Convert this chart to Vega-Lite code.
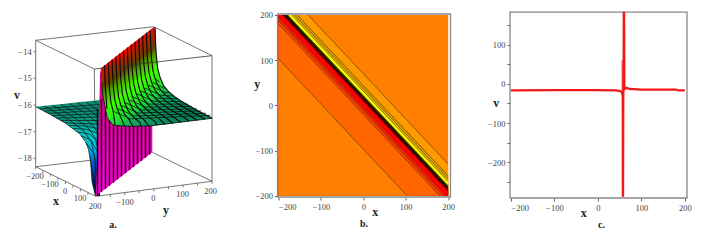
{
"$schema":"https://vega.github.io/schema/vega-lite/v6.json",
"background":"white",
"padding":{"left":0,"top":8,"right":0,"bottom":0},
"bounds":"flush",
"spacing":59.5,
"config":{"view":{"stroke":null},"axis":{"grid":false,"domain":false,"labelOverlap":false,"labelFont":"Liberation Serif","labelFontSize":8.5,"labelColor":"#444444","tickColor":"#666666","tickSize":3,"labelPadding":2,"titleFont":"Liberation Serif","titleFontWeight":"bold","titleFontSize":12,"titleColor":"#222222","titleBaseline":"middle"}},
"datasets":{
"box":[
{"u":35.7,"w":41.3,"u2":153.7,"w2":27.7},{"u":153.7,"w":27.7,"u2":212,"w2":56.7},{"u":94.3,"w":70,"u2":35.7,"w2":41.3},
{"u":35.7,"w":41.3,"u2":35.7,"w2":167.7},{"u":212,"w":56.7,"u2":212,"w2":182.3},{"u":94.3,"w":70,"u2":95.7,"w2":197.3},
{"u":35.7,"w":167.7,"u2":95.7,"w2":197.3},{"u":95.7,"w":197.3,"u2":212,"w2":182.3},{"u":35.7,"w":167.7,"u2":93,"w2":161},{"u":212,"w":182.3,"u2":152.3,"w2":153.3},
{"u":33.5,"w":52.7,"u2":35.7,"w2":52.7},{"u":33.5,"w":79.3,"u2":35.7,"w2":79.3},{"u":33.5,"w":106,"u2":35.7,"w2":106},{"u":33.5,"w":132.7,"u2":35.7,"w2":132.7},{"u":33.5,"w":159.3,"u2":35.7,"w2":159.3},
{"u":35.7,"w":167.7,"u2":35.2,"w2":170.2},{"u":43.2,"w":171.4,"u2":42.7,"w2":173.9},{"u":50.7,"w":175.1,"u2":50.2,"w2":177.6},{"u":58.2,"w":178.8,"u2":57.7,"w2":181.3},{"u":65.7,"w":182.5,"u2":65.2,"w2":185},{"u":73.2,"w":186.2,"u2":72.7,"w2":188.7},{"u":80.7,"w":189.9,"u2":80.2,"w2":192.4},{"u":88.2,"w":193.6,"u2":87.7,"w2":196.1},
{"u":110.2,"w":195.4,"u2":110.2,"w2":197.9},{"u":124.8,"w":193.5,"u2":124.8,"w2":196},{"u":139.3,"w":191.6,"u2":139.3,"w2":194.1},{"u":153.9,"w":189.8,"u2":153.9,"w2":192.3},{"u":168.4,"w":187.9,"u2":168.4,"w2":190.4},{"u":183,"w":186,"u2":183,"w2":188.5},{"u":197.5,"w":184.1,"u2":197.5,"w2":186.6},{"u":212,"w":182.3,"u2":212,"w2":184.8}
],
"boxFront":[{"u":212,"w":56.7,"u2":94.3,"w2":70}],
"teal":[
{"u":35.7,"w":107.7,"w2":107.7},{"u":50.3,"w":106.2,"w2":115.5},{"u":65,"w":104.7,"w2":123.9},{"u":79.7,"w":103.1,"w2":134.8},{"u":85.5,"w":102.5,"w2":142.6},{"u":88.5,"w":102.2,"w2":150.3},{"u":90.7,"w":102,"w2":162.6},{"u":92.1,"w":101.8,"w2":183.2},{"u":95.7,"w":101.4,"w2":197},{"u":100,"w":101,"w2":197}
],
"tealMesh":[
{"id":"a0","u":35.7,"w":107.7},{"id":"a0","u":50.3,"w":115.5},{"id":"a0","u":65,"w":123.9},{"id":"a0","u":79.7,"w":134.8},{"id":"a0","u":85.5,"w":142.6},{"id":"a0","u":88.5,"w":150.3},{"id":"a0","u":90.7,"w":162.6},{"id":"a0","u":92.1,"w":183.2},{"id":"a0","u":95.7,"w":197},
{"id":"a1","u":44.1,"w":106.9},{"id":"a1","u":69.3,"w":120.9},{"id":"a1","u":83.9,"w":131.8},{"id":"a1","u":91.3,"w":142.9},{"id":"a1","u":94.9,"w":159.6},{"id":"a1","u":96.9,"w":194.5},
{"id":"a2","u":52.5,"w":106.1},{"id":"a2","u":73.5,"w":117.9},{"id":"a2","u":88.1,"w":128.8},{"id":"a2","u":95.5,"w":139.9},{"id":"a2","u":99.1,"w":156.6},
{"id":"a3","u":60.9,"w":105.4},{"id":"a3","u":77.7,"w":114.9},{"id":"a3","u":92.3,"w":125.8},{"id":"a3","u":99.7,"w":136.9},
{"id":"a4","u":69.3,"w":104.6},{"id":"a4","u":81.9,"w":111.9},{"id":"a4","u":96.5,"w":122.8},{"id":"a4","u":103.9,"w":133.9},
{"id":"a5","u":77.7,"w":104},{"id":"a5","u":86.1,"w":108.9},{"id":"a5","u":100.7,"w":119.8},
{"id":"a6","u":86.2,"w":103.4},{"id":"a6","u":90.4,"w":105.9},{"id":"a6","u":105,"w":116.8},
{"id":"a7","u":94.5,"w":102.9},{"id":"a7","u":109.2,"w":113.8},
{"id":"b1","u":39.9,"w":109.9},{"id":"b1","u":100,"w":105.5},
{"id":"b2","u":44.1,"w":112.1},{"id":"b2","u":100,"w":108.5},
{"id":"b3","u":48.2,"w":114.3},{"id":"b3","u":100,"w":111.5},
{"id":"b4","u":52.5,"w":116.6},{"id":"b4","u":100,"w":114.6},
{"id":"b5","u":56.7,"w":119},{"id":"b5","u":100,"w":118},
{"id":"b6","u":60.8,"w":121.4},{"id":"b6","u":100,"w":121.5},
{"id":"b7","u":65,"w":123.8},{"id":"b7","u":100,"w":125.3},
{"id":"b8","u":69.2,"w":126.6},{"id":"b8","u":84.5,"w":126.8},{"id":"b8","u":100,"w":129.9},
{"id":"b9","u":73.4,"w":129.4},{"id":"b9","u":86.6,"w":130.3},{"id":"b9","u":100,"w":135.3},
{"id":"b10","u":77.6,"w":132.9},{"id":"b10","u":88.8,"w":134.8},{"id":"b10","u":100,"w":143.4},
{"id":"b11","u":81.7,"w":137},{"id":"b11","u":90.8,"w":140.9},{"id":"b11","u":100,"w":157.2},
{"id":"b12","u":86,"w":143.5},{"id":"b12","u":94.2,"w":155.2},{"id":"b12","u":97.5,"w":185},
{"id":"b13","u":90.1,"w":158.2},{"id":"b13","u":95.2,"w":195.8}
],
"magenta":[
{"u":95.7,"w":197.3,"w2":197.3},{"u":99.5,"w":100,"w2":194.3},{"u":100,"w":75,"w2":193.9},{"u":100.7,"w":72,"w2":193.4},{"u":152.3,"w":100,"w2":153.3}
],
"stripes":[
{"u":97.5,"w":110,"w2":195.9},{"u":101.5,"w":100,"w2":192.8},{"u":105.5,"w":100,"w2":189.7},{"u":109.5,"w":100,"w2":186.6},{"u":113.5,"w":100,"w2":183.5},{"u":117.5,"w":100,"w2":180.4},{"u":121.5,"w":100,"w2":177.3},{"u":125.5,"w":100,"w2":174.1},{"u":129.5,"w":100,"w2":171},{"u":133.5,"w":100,"w2":167.9},{"u":137.5,"w":100,"w2":164.8},{"u":141.5,"w":100,"w2":161.7},{"u":145.5,"w":100,"w2":158.6},{"u":149.5,"w":100,"w2":155.5}
],
"green":[
{"u":100.7,"w":69.3,"w2":70},{"u":101.5,"w":68.7,"w2":84},{"u":103,"w":67.5,"w2":97},{"u":105,"w":66,"w2":107},{"u":107.3,"w":64.2,"w2":119},{"u":113,"w":59.7,"w2":126},{"u":123,"w":52,"w2":127},{"u":133,"w":44.2,"w2":127.3},{"u":152,"w":29.5,"w2":126.7},{"u":154,"w":28,"w2":126.7},{"u":155.1,"w":29.5,"w2":126.5},{"u":155.6,"w":43.8,"w2":126.4},{"u":156.3,"w":56.6,"w2":126.3},{"u":157.8,"w":69.8,"w2":126.1},{"u":160,"w":78.1,"w2":125.9},{"u":163.7,"w":86.9,"w2":125.4},{"u":168.1,"w":92.2,"w2":124.9},{"u":175.4,"w":98.3,"w2":124},{"u":182.7,"w":103.1,"w2":123},{"u":197.4,"w":111.5,"w2":121.2},{"u":212.1,"w":119.3,"w2":119.3}
],
"greenRibs":[
{"id":1,"u":104.5,"w":66.3},{"id":1,"u":105,"w":80.7},{"id":1,"u":105.7,"w":93.6},{"id":1,"u":107,"w":110},
{"id":2,"u":108.3,"w":63.4},{"id":2,"u":108.8,"w":77.8},{"id":2,"u":109.5,"w":90.7},{"id":2,"u":111,"w":103.8},{"id":2,"u":113.2,"w":112.2},{"id":2,"u":115,"w":126},
{"id":3,"u":112.1,"w":60.4},{"id":3,"u":112.6,"w":74.8},{"id":3,"u":113.3,"w":87.7},{"id":3,"u":114.8,"w":100.8},{"id":3,"u":117,"w":109.2},{"id":3,"u":120.7,"w":117.9},{"id":3,"u":124.5,"w":127},
{"id":4,"u":115.9,"w":57.5},{"id":4,"u":116.4,"w":71.9},{"id":4,"u":117.1,"w":84.8},{"id":4,"u":118.6,"w":97.9},{"id":4,"u":120.8,"w":106.3},{"id":4,"u":124.5,"w":115},{"id":4,"u":128.9,"w":120.4},{"id":4,"u":133,"w":127},
{"id":5,"u":119.7,"w":54.5},{"id":5,"u":120.2,"w":68.9},{"id":5,"u":120.9,"w":81.8},{"id":5,"u":122.4,"w":94.9},{"id":5,"u":124.6,"w":103.3},{"id":5,"u":128.3,"w":112},{"id":5,"u":132.7,"w":117.4},{"id":5,"u":140,"w":123.5},{"id":5,"u":141,"w":127},
{"id":6,"u":123.5,"w":51.6},{"id":6,"u":124,"w":66},{"id":6,"u":124.7,"w":78.9},{"id":6,"u":126.2,"w":92},{"id":6,"u":128.4,"w":100.4},{"id":6,"u":132.1,"w":109.1},{"id":6,"u":136.5,"w":114.5},{"id":6,"u":143.8,"w":120.6},{"id":6,"u":149,"w":127},
{"id":7,"u":127.4,"w":48.6},{"id":7,"u":127.9,"w":63},{"id":7,"u":128.6,"w":75.9},{"id":7,"u":130.1,"w":89},{"id":7,"u":132.3,"w":97.4},{"id":7,"u":136,"w":106.1},{"id":7,"u":140.4,"w":111.5},{"id":7,"u":147.7,"w":117.6},{"id":7,"u":155,"w":122.4},{"id":7,"u":157,"w":126.3},
{"id":8,"u":131.2,"w":45.6},{"id":8,"u":131.7,"w":60},{"id":8,"u":132.4,"w":72.9},{"id":8,"u":133.9,"w":86},{"id":8,"u":136.1,"w":94.4},{"id":8,"u":139.8,"w":103.1},{"id":8,"u":144.2,"w":108.5},{"id":8,"u":151.5,"w":114.6},{"id":8,"u":158.8,"w":119.4},{"id":8,"u":165,"w":125.3},
{"id":9,"u":135,"w":42.7},{"id":9,"u":135.5,"w":57.1},{"id":9,"u":136.2,"w":70},{"id":9,"u":137.7,"w":83.1},{"id":9,"u":139.9,"w":91.5},{"id":9,"u":143.6,"w":100.2},{"id":9,"u":148,"w":105.6},{"id":9,"u":155.3,"w":111.7},{"id":9,"u":162.6,"w":116.5},{"id":9,"u":173,"w":124.2},
{"id":10,"u":138.8,"w":39.7},{"id":10,"u":139.3,"w":54.1},{"id":10,"u":140,"w":67},{"id":10,"u":141.5,"w":80.1},{"id":10,"u":143.7,"w":88.5},{"id":10,"u":147.4,"w":97.2},{"id":10,"u":151.8,"w":102.6},{"id":10,"u":159.1,"w":108.7},{"id":10,"u":166.4,"w":113.5},{"id":10,"u":181,"w":123.2},
{"id":11,"u":142.6,"w":36.8},{"id":11,"u":143.1,"w":51.2},{"id":11,"u":143.8,"w":64.1},{"id":11,"u":145.3,"w":77.2},{"id":11,"u":147.5,"w":85.6},{"id":11,"u":151.2,"w":94.3},{"id":11,"u":155.6,"w":99.7},{"id":11,"u":162.9,"w":105.8},{"id":11,"u":170.2,"w":110.6},{"id":11,"u":184.9,"w":119},{"id":11,"u":189,"w":122},
{"id":12,"u":146.4,"w":33.8},{"id":12,"u":146.9,"w":48.2},{"id":12,"u":147.6,"w":61.1},{"id":12,"u":149.1,"w":74.2},{"id":12,"u":151.3,"w":82.6},{"id":12,"u":155,"w":91.3},{"id":12,"u":159.4,"w":96.7},{"id":12,"u":166.7,"w":102.8},{"id":12,"u":174,"w":107.6},{"id":12,"u":188.7,"w":116},{"id":12,"u":197,"w":121.2},
{"id":13,"u":150.2,"w":30.9},{"id":13,"u":150.7,"w":45.3},{"id":13,"u":151.4,"w":58.2},{"id":13,"u":152.9,"w":71.3},{"id":13,"u":155.1,"w":79.7},{"id":13,"u":158.8,"w":88.4},{"id":13,"u":163.2,"w":93.8},{"id":13,"u":170.5,"w":99.9},{"id":13,"u":177.8,"w":104.7},{"id":13,"u":192.5,"w":113.1},{"id":13,"u":205,"w":120.2},
{"id":14,"u":155,"w":28.5},{"id":14,"u":155.6,"w":43.8},{"id":14,"u":156.3,"w":56.6},{"id":14,"u":157.8,"w":69.8},{"id":14,"u":160,"w":78.1},{"id":14,"u":163.7,"w":86.9},{"id":14,"u":168.1,"w":92.2},{"id":14,"u":175.4,"w":98.3},{"id":14,"u":182.7,"w":103.1},{"id":14,"u":197.4,"w":111.5},{"id":14,"u":212.1,"w":119.3}
],
"greenCross":[
{"id":0,"u":101.5,"w":84},{"id":0,"u":103,"w":97},{"id":0,"u":105,"w":107},{"id":0,"u":107.3,"w":119},{"id":0,"u":113,"w":126},{"id":0,"u":123,"w":127},{"id":0,"u":133,"w":127.3},{"id":0,"u":152,"w":126.7},{"id":0,"u":182,"w":123},{"id":0,"u":212,"w":119.3},
{"id":1,"u":114.3,"w":112.6},{"id":1,"u":130.5,"w":119.9},{"id":1,"u":210.2,"w":116.3},
{"id":2,"u":118.1,"w":109.7},{"id":2,"u":134.3,"w":117},{"id":2,"u":205.8,"w":114.2},
{"id":3,"u":121.9,"w":106.7},{"id":3,"u":138.1,"w":114},{"id":3,"u":201.1,"w":111.9},
{"id":4,"u":125.7,"w":103.8},{"id":4,"u":141.9,"w":111.1},{"id":4,"u":196.6,"w":109.8},
{"id":5,"u":129.5,"w":100.8},{"id":5,"u":145.7,"w":108.1},{"id":5,"u":191.9,"w":107.4},
{"id":6,"u":133.3,"w":97.9},{"id":6,"u":149.5,"w":105.2},{"id":6,"u":187.4,"w":105.1},
{"id":7,"u":137.2,"w":94.9},{"id":7,"u":153.4,"w":102.2},{"id":7,"u":182.8,"w":102.6},
{"id":8,"u":141,"w":91.9},{"id":8,"u":157.2,"w":99.2},{"id":8,"u":178.1,"w":99.9},
{"id":9,"u":144.8,"w":89},{"id":9,"u":161,"w":96.3},{"id":9,"u":173.6,"w":97.1},
{"id":10,"u":148.6,"w":86},{"id":10,"u":164.8,"w":93.3},{"id":10,"u":168.9,"w":93.8},
{"id":11,"u":152.4,"w":83.1},{"id":11,"u":164.5,"w":89.6},
{"id":12,"u":156.2,"w":80.1},{"id":12,"u":159.7,"w":83.2}
],
"aLabels":[
{"t":"−14","u":25,"w":52.7},{"t":"−15","u":25,"w":79.3},{"t":"−16","u":25,"w":106},{"t":"−17","u":25,"w":132.7},{"t":"−18","u":25,"w":159.3},
{"t":"−200","u":35,"w":177.3},{"t":"−100","u":50,"w":185},{"t":"0","u":65,"w":192.3},{"t":"100","u":80,"w":199.3},{"t":"200","u":95,"w":206.7},
{"t":"−100","u":125,"w":203.3},{"t":"0","u":153.3,"w":199.3},{"t":"100","u":182.7,"w":195},{"t":"200","u":210.7,"w":191.7}
],
"aTitles":[{"t":"v","u":17,"w":95.5},{"t":"x","u":56,"w":201.7},{"t":"y","u":166,"w":210.7}],
"aCaption":[{"t":"a.","u":113,"w":225.7}],
"contourFill":[
{"level":400,"x":-200,"y":200,"y2":-200},{"level":400,"x":200,"y":200,"y2":-200},
{"level":70,"x":-200,"y":200,"y2":-200},{"level":70,"x":-130,"y":200,"y2":-200},{"level":70,"x":200,"y":-130,"y2":-200},
{"level":44,"x":-200,"y":200,"y2":-200},{"level":44,"x":-156,"y":200,"y2":-200},{"level":44,"x":200,"y":-156,"y2":-200},
{"level":37,"x":-200,"y":200,"y2":-200},{"level":37,"x":-163,"y":200,"y2":-200},{"level":37,"x":200,"y":-163,"y2":-200},
{"level":31,"x":-200,"y":200,"y2":-200},{"level":31,"x":-169,"y":200,"y2":-200},{"level":31,"x":200,"y":-169,"y2":-200},
{"level":23,"x":-200,"y":200,"y2":-200},{"level":23,"x":-177,"y":200,"y2":-200},{"level":23,"x":200,"y":-177,"y2":-200},
{"level":20,"x":-200,"y":200,"y2":-200},{"level":20,"x":-180,"y":200,"y2":-200},{"level":20,"x":200,"y":-180,"y2":-200},
{"level":13,"x":-200,"y":200,"y2":-200},{"level":13,"x":-187,"y":200,"y2":-200},{"level":13,"x":200,"y":-187,"y2":-200},
{"level":9,"x":-200,"y":200,"y2":-200},{"level":9,"x":-191,"y":200,"y2":-200},{"level":9,"x":200,"y":-191,"y2":-200},
{"level":-5,"x":-200,"y":195,"y2":-200},{"level":-5,"x":195,"y":-200,"y2":-200},
{"level":-12,"x":-200,"y":188,"y2":-200},{"level":-12,"x":188,"y":-200,"y2":-200},
{"level":-20,"x":-200,"y":180,"y2":-200},{"level":-20,"x":180,"y":-200,"y2":-200},
{"level":-97,"x":-200,"y":103,"y2":-200},{"level":-97,"x":103,"y":-200,"y2":-200}
],
"contourLines":[
{"level":70,"x":-130,"y":200},{"level":70,"x":200,"y":-130},
{"level":44,"x":-156,"y":200},{"level":44,"x":200,"y":-156},
{"level":37,"x":-163,"y":200},{"level":37,"x":200,"y":-163},
{"level":31,"x":-169,"y":200},{"level":31,"x":200,"y":-169},
{"level":-5,"x":-200,"y":195},{"level":-5,"x":195,"y":-200},
{"level":-12,"x":-200,"y":188},{"level":-12,"x":188,"y":-200},
{"level":-20,"x":-200,"y":180},{"level":-20,"x":180,"y":-200},
{"level":-97,"x":-200,"y":103},{"level":-97,"x":103,"y":-200}
],
"frameB":[{"x":-202.3,"x2":205.5,"y":-202.9,"y2":202.2}],
"captionB":[{"t":"b.","x":1.6,"y":-263.4}],
"frameC":[{"x":-202,"x2":205,"y":-291,"y2":183}],
"captionC":[{"t":"c.","x":8.5,"y":-358.8}],
"profile":[
{"x":-200,"v":-16.5},{"x":-100,"v":-16.2},{"x":0,"v":-16},{"x":40,"v":-16.5},{"x":50,"v":-18},{"x":55,"v":-21},{"x":57,"v":-30},{"x":57.3,"v":-40},{"x":57.5,"v":-285},{"x":58,"v":-285},{"x":58.5,"v":-40},{"x":59,"v":-12},{"x":59.6,"v":181},{"x":60.4,"v":181},{"x":61,"v":-14},{"x":66,"v":-10},{"x":72,"v":-13},{"x":100,"v":-15},{"x":180,"v":-15},{"x":185,"v":-16.5},{"x":200,"v":-16.5}
],
"profileStub":[{"x":56,"v":60},{"x":56.1,"v":-20}]
},
"hconcat":[
{"width":218,"height":183,
"layer":[
{"data":{"name":"box"},"mark":{"type":"rule","color":"#666666","strokeWidth":0.9},"encoding":{"x":{"field":"u","type":"quantitative","scale":{"domain":[0,218],"nice":false,"zero":false},"axis":null},"y":{"field":"w","type":"quantitative","scale":{"domain":[198,15],"nice":false,"zero":false},"axis":null},"x2":{"field":"u2"},"y2":{"field":"w2"}}},
{"data":{"name":"teal"},"mark":{"type":"area","clip":false,"color":{"gradient":"linear","x1":0,"y1":0,"x2":0,"y2":1,"stops":[{"offset":0,"color":"#0e8a6e"},{"offset":0.2,"color":"#0c9a80"},{"offset":0.35,"color":"#06c8c0"},{"offset":0.5,"color":"#00c0e8"},{"offset":0.65,"color":"#0060e0"},{"offset":0.85,"color":"#001a60"},{"offset":1,"color":"#100820"}]}},"encoding":{"x":{"field":"u","type":"quantitative"},"y":{"field":"w","type":"quantitative"},"y2":{"field":"w2"}}},
{"data":{"name":"tealMesh"},"mark":{"type":"line","color":"#08201e","strokeWidth":0.8},"encoding":{"x":{"field":"u","type":"quantitative"},"y":{"field":"w","type":"quantitative"},"detail":{"field":"id"}}},
{"data":{"name":"magenta"},"mark":{"type":"area","color":{"gradient":"linear","x1":0,"y1":0,"x2":0,"y2":1,"stops":[{"offset":0,"color":"#c00070"},{"offset":0.35,"color":"#e000a0"},{"offset":1,"color":"#ff00e0"}]}},"encoding":{"x":{"field":"u","type":"quantitative"},"y":{"field":"w","type":"quantitative"},"y2":{"field":"w2"}}},
{"data":{"name":"stripes"},"mark":{"type":"rule","color":"#0a0008","strokeWidth":1.4},"encoding":{"x":{"field":"u","type":"quantitative"},"y":{"field":"w","type":"quantitative"},"y2":{"field":"w2"}}},
{"data":{"name":"green"},"mark":{"type":"area","color":{"gradient":"linear","x1":0.239,"y1":0.2075,"x2":0.959,"y2":1.035,"stops":[{"offset":0,"color":"#ff0000"},{"offset":0.06,"color":"#b02000"},{"offset":0.14,"color":"#604000"},{"offset":0.2,"color":"#50a000"},{"offset":0.3,"color":"#40ff00"},{"offset":0.45,"color":"#20e030"},{"offset":0.55,"color":"#12a860"},{"offset":0.7,"color":"#0a8a60"},{"offset":1,"color":"#008060"}]}},"encoding":{"x":{"field":"u","type":"quantitative"},"y":{"field":"w","type":"quantitative"},"y2":{"field":"w2"}}},
{"data":{"name":"greenRibs"},"mark":{"type":"line","color":"#040804","strokeWidth":1.1},"encoding":{"x":{"field":"u","type":"quantitative"},"y":{"field":"w","type":"quantitative"},"detail":{"field":"id"}}},
{"data":{"name":"greenCross"},"mark":{"type":"line","color":"#04140c","strokeWidth":0.8},"encoding":{"x":{"field":"u","type":"quantitative"},"y":{"field":"w","type":"quantitative"},"detail":{"field":"id"}}},
{"data":{"name":"boxFront"},"mark":{"type":"rule","color":"#333333","strokeWidth":0.8},"encoding":{"x":{"field":"u","type":"quantitative"},"y":{"field":"w","type":"quantitative"},"x2":{"field":"u2"},"y2":{"field":"w2"}}},
{"data":{"name":"aLabels"},"mark":{"type":"text","font":"Liberation Serif","fontSize":8.5,"color":"#444444"},"encoding":{"x":{"field":"u","type":"quantitative"},"y":{"field":"w","type":"quantitative"},"text":{"field":"t"}}},
{"data":{"name":"aTitles"},"mark":{"type":"text","font":"Liberation Serif","fontSize":12,"fontWeight":"bold","color":"#222222"},"encoding":{"x":{"field":"u","type":"quantitative"},"y":{"field":"w","type":"quantitative"},"text":{"field":"t"}}},
{"data":{"name":"aCaption"},"mark":{"type":"text","font":"Liberation Serif","fontSize":10,"fontWeight":"bold","color":"#222222"},"encoding":{"x":{"field":"u","type":"quantitative"},"y":{"field":"w","type":"quantitative"},"text":{"field":"t"}}}
]},
{"width":173,"height":183,
"layer":[
{"data":{"name":"contourFill"},"mark":{"type":"area","opacity":1},"encoding":{"x":{"field":"x","type":"quantitative","scale":{"domain":[-202.3,205.5],"nice":false,"zero":false},"axis":{"title":"x","values":[-200,-150,-100,-50,0,50,100,150,200],"labelExpr":"datum.value % 100 === 0 ? datum.label : ''","titleX":97.2,"titleY":14}},"y":{"field":"y","type":"quantitative","scale":{"domain":[-202.9,202.2],"nice":false,"zero":false},"axis":{"title":"y","titleAngle":0,"values":[-200,-100,0,100,200],"titleX":-20.8,"titleY":69}},"y2":{"field":"y2"},"color":{"field":"level","type":"nominal","legend":null,"scale":{"domain":[400,70,44,37,31,23,20,13,9,-5,-12,-20,-97],"range":["#ff8000","#ff9900","#d8a000","#e8c000","#ffff00","#665c00","#201000","#6a0000","#ff0000","#ff2000","#ff4000","#ff6600","#ff8000"]}}}},
{"data":{"name":"contourLines"},"mark":{"type":"line","color":"#6a3a00","strokeWidth":0.7},"encoding":{"x":{"field":"x","type":"quantitative"},"y":{"field":"y","type":"quantitative"},"detail":{"field":"level"}}},
{"data":{"name":"frameB"},"mark":{"type":"rect","fillOpacity":0,"stroke":"#888888","strokeWidth":1.3},"encoding":{"x":{"field":"x","type":"quantitative"},"x2":{"field":"x2"},"y":{"field":"y","type":"quantitative"},"y2":{"field":"y2"}}},
{"data":{"name":"captionB"},"mark":{"type":"text","font":"Liberation Serif","fontSize":10,"fontWeight":"bold","color":"#222222"},"encoding":{"x":{"field":"x","type":"quantitative"},"y":{"field":"y","type":"quantitative"},"text":{"field":"t"}}}
]},
{"width":177,"height":184,
"resolve":{"axis":{"y":"independent"}},
"layer":[
{"data":{"name":"frameC"},"mark":{"type":"rect","fillOpacity":0,"stroke":"#888888","strokeWidth":1.3},"encoding":{"x":{"field":"x","type":"quantitative","scale":{"domain":[-202,205],"nice":false,"zero":false},"axis":{"title":"x","values":[-200,-150,-100,-50,0,50,100,150,200],"labelExpr":"datum.value % 100 === 0 ? datum.label : ''","titleX":73.3,"titleY":14}},"x2":{"field":"x2"},"y":{"field":"y","type":"quantitative","scale":{"domain":[-291,178],"nice":false,"zero":false},"axis":{"title":"v","titleAngle":0,"orient":"left","values":[-200,-100,0,100],"titleX":-14.3,"titleY":88}},"y2":{"field":"y2"}}},
{"data":{"name":"profile"},"mark":{"type":"line","color":"#f01818","strokeWidth":2.2},"encoding":{"x":{"field":"x","type":"quantitative"},"y":{"field":"v","type":"quantitative","axis":{"orient":"left","title":null,"labels":false,"values":[-250,-150,-50,50,150]}}}},
{"data":{"name":"profileStub"},"mark":{"type":"line","color":"#f01818","strokeWidth":1},"encoding":{"x":{"field":"x","type":"quantitative"},"y":{"field":"v","type":"quantitative","axis":null}}},
{"data":{"name":"captionC"},"mark":{"type":"text","font":"Liberation Serif","fontSize":10,"fontWeight":"bold","color":"#222222"},"encoding":{"x":{"field":"x","type":"quantitative"},"y":{"field":"y","type":"quantitative","axis":null},"text":{"field":"t"}}}
]}
]
}
